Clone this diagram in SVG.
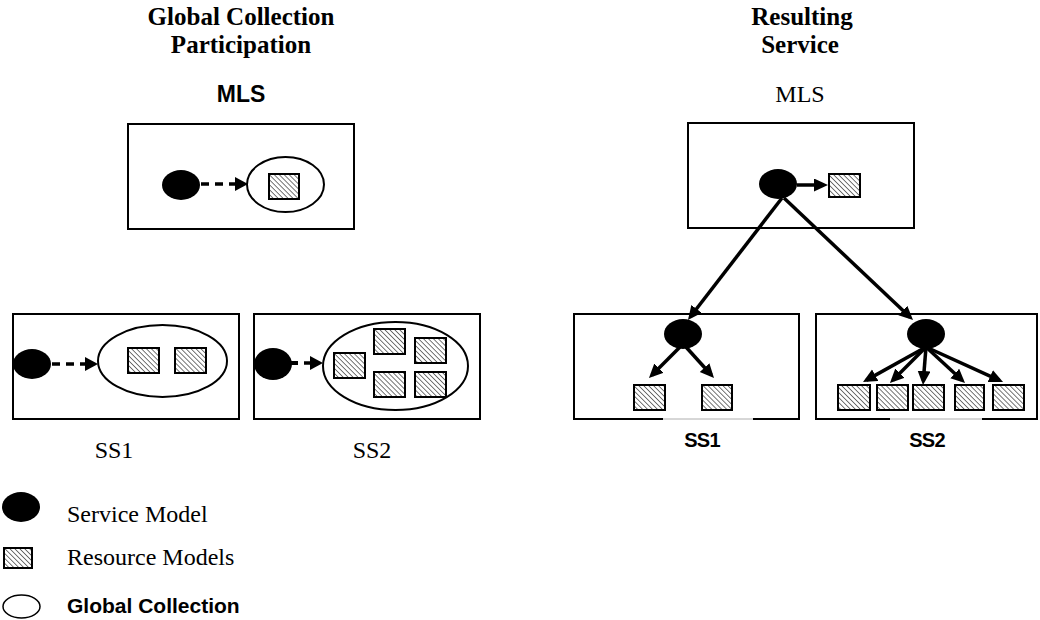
<svg xmlns="http://www.w3.org/2000/svg" width="1040" height="620" viewBox="0 0 1040 620">
<style>
.box{fill:#fff;stroke:#000;stroke-width:2}
.coll{fill:#fff;stroke:#000;stroke-width:2}
.svc{fill:#000}
.res{fill:url(#hatch);stroke:#000;stroke-width:2}
.serifB{font-family:"Liberation Serif","Times New Roman",serif;font-weight:bold;font-size:25px;fill:#000}
.serif{font-family:"Liberation Serif","Times New Roman",serif;font-size:24px;fill:#000}
.sansB{font-family:"Liberation Sans",Arial,sans-serif;font-weight:bold;fill:#000}
.dash{stroke:#000;stroke-width:3.5;stroke-dasharray:8 6;fill:none}
.solid{stroke:#000;stroke-width:3.5;fill:none;marker-end:url(#head)}
.gap{stroke:#fff;stroke-width:3}
.thin{stroke:#999;stroke-width:0.8}
</style>
<defs>
<pattern id="hatch" patternUnits="userSpaceOnUse" width="3.5" height="3.5" patternTransform="rotate(-45)">
<rect width="3.5" height="3.5" fill="#fff"/>
<line x1="0" y1="0" x2="0" y2="3.5" stroke="#555" stroke-width="1.6"/>
</pattern>
<marker id="head" markerUnits="userSpaceOnUse" markerWidth="16" markerHeight="14" refX="10" refY="6.5" orient="auto">
<path d="M0,0 L14,6.5 L0,13 z" fill="#000"/>
</marker>
<marker id="dhead" markerUnits="userSpaceOnUse" markerWidth="14" markerHeight="16" refX="0" refY="7" orient="auto">
<path d="M0,0 L13,7 L0,14 z" fill="#000"/>
</marker>
</defs>

<g id="titles">
<text class="serifB" x="241" y="25" text-anchor="middle">Global Collection</text>
<text class="serifB" x="241" y="53" text-anchor="middle">Participation</text>
<text class="sansB" x="241" y="102" text-anchor="middle" font-size="23">MLS</text>
<text class="serifB" x="802" y="25" text-anchor="middle">Resulting</text>
<text class="serifB" x="800" y="53" text-anchor="middle">Service</text>
<text class="serif" x="800" y="102" text-anchor="middle">MLS</text>
</g>

<g id="left-mls">
<rect class="box" x="128" y="124" width="226" height="105"/>
<ellipse class="coll" cx="285.5" cy="184.5" rx="38.5" ry="27.5"/>
<rect class="res" x="269" y="174" width="30" height="25"/>
<ellipse class="svc" cx="181" cy="185" rx="19" ry="15"/>
</g>

<g id="left-ss1">
<rect class="box" x="13" y="314" width="226" height="105"/>
<ellipse class="coll" cx="162.5" cy="361" rx="64.5" ry="36"/>
<rect class="res" x="128" y="348" width="31" height="25"/>
<rect class="res" x="175" y="348" width="31" height="25"/>
<ellipse class="svc" cx="32" cy="364" rx="19" ry="15"/>
<text class="serif" x="114" y="458" text-anchor="middle">SS1</text>
</g>

<g id="left-ss2">
<rect class="box" x="254" y="314" width="226" height="105"/>
<ellipse class="coll" cx="395.5" cy="366" rx="72.5" ry="44"/>
<rect class="res" x="334" y="353" width="31" height="25"/>
<rect class="res" x="374" y="329" width="31" height="25"/>
<rect class="res" x="374" y="372" width="31" height="25"/>
<rect class="res" x="415" y="338" width="31" height="25"/>
<rect class="res" x="415" y="372" width="31" height="25"/>
<ellipse class="svc" cx="273" cy="364" rx="19" ry="16"/>
<line x1="285" y1="363" x2="298" y2="363" stroke="#000" stroke-width="4"/>
<text class="serif" x="372" y="458" text-anchor="middle">SS2</text>
</g>

<g id="right-mls">
<rect class="box" x="688" y="123" width="226" height="105"/>
<rect class="res" x="829" y="174" width="31" height="23"/>
<ellipse class="svc" cx="778" cy="184" rx="19" ry="15"/>
</g>

<g id="right-ss1">
<rect class="box" x="574" y="314" width="225" height="105"/>
<line class="gap" x1="663" y1="419" x2="753" y2="419"/>
<line class="thin" x1="663" y1="419" x2="753" y2="419"/>
<ellipse class="svc" cx="683" cy="334" rx="19" ry="15"/>
<rect class="res" x="634" y="385" width="31" height="25"/>
<rect class="res" x="702" y="385" width="30" height="25"/>
<text class="sansB" x="702" y="447" text-anchor="middle" font-size="20" letter-spacing="-0.8">SS1</text>
</g>

<g id="right-ss2">
<rect class="box" x="816" y="314" width="221" height="105"/>
<line class="gap" x1="890" y1="419" x2="982" y2="419"/>
<line class="thin" x1="890" y1="419" x2="982" y2="419"/>
<ellipse class="svc" cx="926" cy="334" rx="19" ry="15"/>
<rect class="res" x="838" y="385" width="32" height="25"/>
<rect class="res" x="877" y="385" width="31" height="25"/>
<rect class="res" x="913" y="385" width="31" height="25"/>
<rect class="res" x="955" y="385" width="29" height="25"/>
<rect class="res" x="993" y="385" width="31" height="25"/>
<text class="sansB" x="927" y="447" text-anchor="middle" font-size="20" letter-spacing="-0.8">SS2</text>
</g>

<g id="connectors">
<line class="dash" x1="201" y1="184" x2="235" y2="184" marker-end="url(#dhead)"/>
<line class="dash" x1="52" y1="364" x2="85" y2="364" marker-end="url(#dhead)"/>
<line class="dash" x1="304" y1="363" x2="310" y2="363" marker-end="url(#dhead)"/>
<line class="solid" x1="797" y1="185" x2="824" y2="185"/>
<line class="solid" x1="782" y1="198" x2="690.4" y2="316.8"/>
<line class="solid" x1="784" y1="198" x2="910.1" y2="317.3"/>
<line class="solid" x1="680" y1="347" x2="651.8" y2="375.2"/>
<line class="solid" x1="686" y1="347" x2="711.3" y2="375"/>
<line class="solid" x1="926" y1="347" x2="866.5" y2="380.1"/>
<line class="solid" x1="926" y1="347" x2="892.8" y2="380.2"/>
<line class="solid" x1="926" y1="347" x2="923.3" y2="381"/>
<line class="solid" x1="926" y1="347" x2="962.1" y2="380.3"/>
<line class="solid" x1="926" y1="347" x2="999.4" y2="380.3"/>
</g>

<g id="legend">
<ellipse class="svc" cx="21" cy="507" rx="19" ry="15"/>
<text class="serif" x="67" y="522">Service Model</text>
<rect class="res" x="4" y="548" width="28" height="20"/>
<text class="serif" x="67" y="565">Resource Models</text>
<ellipse fill="#fff" stroke="#000" stroke-width="1.5" cx="21.5" cy="606.5" rx="18.5" ry="11.5"/>
<text class="sansB" x="67" y="613" font-size="21">Global Collection</text>
</g>
</svg>
